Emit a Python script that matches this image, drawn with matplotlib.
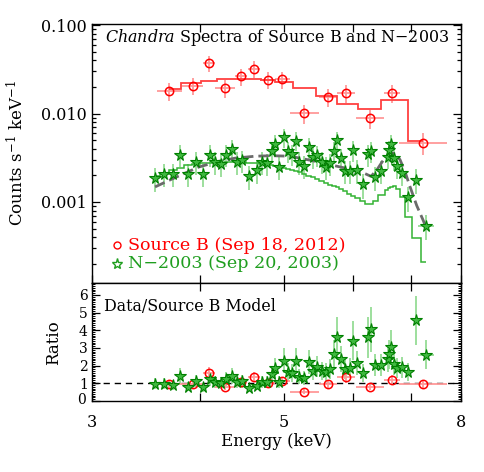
import numpy as np
import matplotlib
matplotlib.use('Agg')
import matplotlib.pyplot as plt
import matplotlib.transforms as mtransforms
from matplotlib.ticker import (FixedLocator, NullLocator, LogLocator,
                               MultipleLocator, NullFormatter, FixedFormatter,
                               FuncFormatter)

plt.rcParams['font.family'] = ['DejaVu Serif']
plt.rcParams['mathtext.fontset'] = 'dejavuserif'

# ---------------- Source B (red) ----------------
srcB_energy = [3.68, 3.92, 4.09, 4.27, 4.46, 4.61, 4.79, 4.97, 5.27, 5.62, 5.90, 6.28, 6.66, 7.24]
srcB_elo = [3.563, 3.808, 4.033, 4.16, 4.387, 4.541, 4.688, 4.88, 5.078, 5.49, 5.754, 6.05, 6.525, 6.78]
srcB_ehi = [3.808, 4.033, 4.16, 4.387, 4.526, 4.688, 4.88, 5.078, 5.49, 5.754, 6.035, 6.525, 6.80, 7.70]
srcB_rate = [0.0180, 0.0205, 0.0373, 0.0195, 0.0264, 0.0322, 0.0240, 0.0244, 0.0101, 0.0154,
             0.0170, 0.00888, 0.0170, 0.00468]
srcB_err = [0.0040, 0.0045, 0.0075, 0.0045, 0.0058, 0.0068, 0.0052, 0.0054, 0.0025, 0.0036,
            0.0039, 0.0022, 0.0040, 0.0013]
srcB_model = [0.01884, 0.02203, 0.02318, 0.02443, 0.02483, 0.02431, 0.02399, 0.02260, 0.01965,
              0.01571, 0.01286, 0.01121, 0.01416, 0.00483]
srcB_ratio = [0.96, 0.95, 1.60, 0.81, 1.06, 1.34, 1.04, 1.11, 0.53, 0.98, 1.34, 0.81, 1.21, 0.96]
srcB_ratio_err = [0.22, 0.22, 0.32, 0.19, 0.23, 0.28, 0.22, 0.24, 0.14, 0.23, 0.3, 0.2, 0.28, 0.25]

# ---------------- N-2003 (green) ----------------
n03_energy = [3.547, 3.636, 3.721, 3.793, 3.877, 3.955, 4.032, 4.100, 4.160, 4.227,
              4.289, 4.350, 4.407, 4.475, 4.559, 4.651, 4.711, 4.774, 4.837, 4.882,
              4.938, 4.997, 5.055, 5.105, 5.159, 5.205, 5.273, 5.334, 5.394, 5.460,
              5.524, 5.584, 5.651, 5.712, 5.754, 5.815, 5.877, 5.951, 6.007, 6.064,
              6.160, 6.243, 6.295, 6.370, 6.476, 6.584, 6.607, 6.642, 6.700, 6.754,
              6.844, 6.954, 7.093, 7.289]
n03_xerr = [0.03] * 53 + [0.15]
n03_rate_e3 = [1.870, 2.090, 2.090, 3.423, 2.090, 2.832, 2.090, 3.423, 2.832, 2.710,
               3.405, 3.979, 2.832, 2.952, 1.949, 2.278, 2.832, 2.731, 3.797, 4.553,
               2.487, 5.418, 3.729, 3.513, 4.923, 2.832, 2.559, 4.180, 3.249, 3.396,
               2.853, 2.474, 2.744, 3.797, 4.961, 3.142, 2.248, 2.248, 3.827, 2.278,
               1.583, 3.450, 3.777, 1.909, 2.259, 3.225, 3.827, 4.553, 3.142, 2.572,
               2.128, 1.130, 1.789, 0.542]
n03_err_e3 = [0.56, 0.62, 0.60, 0.95, 0.62, 0.80, 0.62, 0.95, 0.80, 0.78,
              0.95, 1.05, 0.80, 0.82, 0.60, 0.68, 0.80, 0.78, 1.00, 1.15,
              0.72, 1.30, 1.00, 0.95, 1.20, 0.80, 0.74, 1.10, 0.90, 0.92,
              0.80, 0.72, 0.78, 1.00, 1.20, 0.88, 0.66, 0.66, 1.00, 0.68,
              0.50, 0.95, 1.00, 0.58, 0.66, 0.88, 1.00, 1.15, 0.88, 0.74,
              0.62, 0.36, 0.55, 0.17]
n03_model_e3 = [1.959, 2.144, 2.301, 2.423, 2.586, 2.689, 2.724, 2.752, 2.774, 2.788,
                2.803, 2.810, 2.810, 2.796, 2.767, 2.731, 2.696, 2.640, 2.586, 2.540,
                2.487, 2.423, 2.362, 2.301, 2.231, 2.173, 2.074, 1.985, 1.899, 1.812,
                1.729, 1.654, 1.571, 1.511, 1.472, 1.398, 1.334, 1.243, 1.180, 1.121,
                1.024, 0.959, 0.959, 1.037, 1.211, 1.380, 1.434, 1.491, 1.503, 1.416,
                1.151, 0.684, 0.387, 0.209]
n03_ratio = [0.98, 0.98, 0.89, 1.43, 0.81, 1.13, 0.78, 1.25, 1.09, 1.00,
             1.25, 1.43, 1.06, 1.11, 0.72, 0.87, 1.09, 1.08, 1.51, 1.85,
             1.06, 2.28, 1.64, 1.60, 2.28, 1.38, 1.28, 2.21, 1.71, 1.94,
             1.70, 1.64, 1.81, 2.66, 3.60, 2.36, 1.81, 1.88, 3.40, 2.15,
             1.60, 3.60, 4.05, 2.04, 2.04, 2.36, 2.64, 3.07, 2.12, 1.85,
             1.90, 1.66, 4.56, 2.63]
n03_ratio_err = [0.30, 0.30, 0.28, 0.44, 0.26, 0.35, 0.25, 0.39, 0.34, 0.31,
                 0.39, 0.44, 0.33, 0.35, 0.23, 0.27, 0.34, 0.34, 0.47, 0.57,
                 0.33, 0.70, 0.51, 0.50, 0.70, 0.43, 0.40, 0.68, 0.53, 0.60,
                 0.53, 0.51, 0.56, 0.82, 1.15, 0.73, 0.56, 0.58, 1.10, 0.66,
                 0.50, 1.15, 1.25, 0.63, 0.63, 0.73, 0.82, 0.95, 0.66, 0.57,
                 0.59, 0.51, 1.40, 0.80]

# dashed grey model curve
curve_energy = [3.547, 3.708, 3.841, 3.980, 4.197, 4.387, 4.627, 4.841, 5.078, 5.355, 5.648,
                5.956, 6.165, 6.298, 6.399, 6.507, 6.624, 6.713, 6.803, 6.894, 6.986, 7.112,
                7.237, 7.289]
curve_rate_e3 = [1.480, 1.812, 2.117, 2.474, 2.876, 3.126, 3.292, 3.335, 3.292, 2.968, 2.640,
                 2.350, 2.144, 1.949, 2.319, 2.968, 3.604, 3.513, 3.006, 2.201, 1.491, 0.911,
                 0.617, 0.514]

xtick_vals = [3, 4, 5, 6, 7, 8]
xtick_labels = ['3', '', '5', '', '', '8']
ratio_ticks = [0, 1, 2, 3, 4, 5, 6]
ratio_tick_labels = ['', '1', '2', '3', '4', '5', '6']

# ---------------- derived arrays ----------------
rE = np.array(srcB_energy)
gE = np.array(n03_energy)
g_rate = np.array(n03_rate_e3) * 1e-3
g_err = np.array(n03_err_e3) * 1e-3
g_model = np.array(n03_model_e3) * 1e-3
c_rate = np.array(curve_rate_e3) * 1e-3


def step_edges(x):
    x = np.asarray(x, float)
    mids = np.sqrt(x[:-1] * x[1:])
    return np.concatenate([[x[0]], mids, [x[-1]]])


RED = (1.0, 0.0, 0.0)
RED_ERR = (1.0, 0.6, 0.6)
RED_LINE = (1.0, 0.25, 0.25)
GREEN_FACE = (0.25, 0.72, 0.25)
GREEN_EDGE = (0.0, 0.5, 0.0)
GREEN_ERR = (0.55, 0.85, 0.55)
GREEN_LINE = (0.2, 0.7, 0.2)
GREEN_TEXT = (0.12, 0.62, 0.12)

fig = plt.figure(figsize=(4.85, 4.72), dpi=100)
ax1 = fig.add_axes([0.1897, 0.3994, 0.7608, 0.5508])
ax2 = fig.add_axes([0.1897, 0.1504, 0.7608, 0.2490])

for ax in (ax1, ax2):
    ax.set_xscale('log')
    ax.set_xlim(3, 8)
    ax.xaxis.set_major_locator(FixedLocator(xtick_vals))
    ax.xaxis.set_major_formatter(FixedFormatter(xtick_labels))
    ax.xaxis.set_minor_locator(NullLocator())
    ax.tick_params(which='both', direction='in', top=True, right=True,
                   labelsize=11.5, width=0.9, colors='k')
    ax.tick_params(which='major', length=6)
    ax.tick_params(which='minor', length=3)
    for s in ax.spines.values():
        s.set_linewidth(1.0)

# ---------- top panel ----------
ax1.set_yscale('log')
ax1.set_ylim(1.2e-4, 0.104)
ax1.yaxis.set_major_locator(LogLocator(base=10, numticks=10))
ax1.yaxis.set_major_formatter(FuncFormatter(lambda v, p: f'{v:.3f}'))
ax1.yaxis.set_minor_locator(LogLocator(base=10, subs=np.arange(2, 10), numticks=20))
ax1.yaxis.set_minor_formatter(NullFormatter())
ax1.tick_params(axis='x', labelbottom=False)
ax1.tick_params(axis='y', pad=4)

# red data
ax1.errorbar(rE, srcB_rate, xerr=[rE - np.array(srcB_elo), np.array(srcB_ehi) - rE],
             yerr=srcB_err, fmt='none', ecolor=RED_ERR, elinewidth=1.3, capsize=0, zorder=2)
ax1.stairs(srcB_model, step_edges(rE), baseline=None, color=RED_LINE, lw=1.3, zorder=3)
ax1.plot(rE, srcB_rate, 'o', mfc='none', mec=RED, ms=6, mew=1.1, zorder=5)

# green data
ax1.errorbar(gE, g_rate, xerr=n03_xerr, yerr=g_err, fmt='none', ecolor=GREEN_ERR,
             elinewidth=1.2, capsize=0, zorder=2)
ax1.stairs(g_model, step_edges(gE), baseline=None, color=GREEN_LINE, lw=1.1, zorder=3)
ax1.plot(curve_energy, c_rate, color=(0.42, 0.42, 0.42), lw=2.0, dashes=(3.8, 1.8), zorder=4)
ax1.plot(gE, g_rate, '*', mfc=GREEN_FACE, mec=GREEN_EDGE, ms=8.5, mew=0.8, zorder=6)

ax1.set_ylabel(r'Counts s$^{-1}$ keV$^{-1}$', fontsize=12)
ax1.yaxis.set_label_coords(-0.176, 0.5)

ax1.text(0.035, 0.948, r'$\mathit{Chandra}$ Spectra of Source B and N−2003',
         transform=ax1.transAxes, va='center', ha='left', fontsize=11.4)

# legend
ax1.plot([0.068], [0.148], 'o', transform=ax1.transAxes, mfc='none', mec=RED, ms=5, mew=1)
ax1.text(0.097, 0.148, 'Source B (Sep 18, 2012)', transform=ax1.transAxes,
         color=RED, fontsize=12.6, va='center', ha='left')
ax1.plot([0.068], [0.075], '*', transform=ax1.transAxes, mfc='none', mec=GREEN_TEXT,
         ms=8, mew=1)
ax1.text(0.097, 0.075, 'N−2003 (Sep 20, 2003)', transform=ax1.transAxes,
         color=GREEN_TEXT, fontsize=12.6, va='center', ha='left')

# ---------- bottom panel ----------
ax2.set_ylim(0, 6.65)
ax2.yaxis.set_major_locator(FixedLocator(ratio_ticks))
ax2.yaxis.set_major_formatter(FixedFormatter(ratio_tick_labels))
ax2.yaxis.set_minor_locator(MultipleLocator(0.1))
ax2.tick_params(axis='y', which='minor', length=2.5, width=0.7)
ax2.tick_params(axis='y', pad=3, labelsize=10)
ax2.tick_params(axis='x', pad=9)

# "0" label sits just above/below the axis corner, as in the original
zero_tr = mtransforms.blended_transform_factory(ax2.transAxes, ax2.transData) + \
    mtransforms.ScaledTranslation(-4.2 / 72, -2.5 / 72, fig.dpi_scale_trans)
ax2.text(0.0, ratio_ticks[0], '0', transform=zero_tr, ha='right', va='baseline',
         fontsize=10)

ax2.axhline(1.0, color='k', lw=1.0, dashes=(4.5, 3.5), zorder=1)
ax2.errorbar(gE, n03_ratio, xerr=n03_xerr, yerr=n03_ratio_err, fmt='none',
             ecolor=GREEN_ERR, elinewidth=1.2, capsize=0, zorder=2)
ax2.errorbar(rE, srcB_ratio, xerr=[rE - np.array(srcB_elo), np.array(srcB_ehi) - rE],
             yerr=srcB_ratio_err, fmt='none', ecolor=RED_ERR, elinewidth=1.3, capsize=0, zorder=2)
ax2.plot(rE, srcB_ratio, 'o', mfc='none', mec=RED, ms=6, mew=1.1, zorder=5)
ax2.plot(gE, n03_ratio, '*', mfc=GREEN_FACE, mec=GREEN_EDGE, ms=8.5, mew=0.8, zorder=6)

ax2.text(0.0325, 0.80, 'Data/Source B Model', transform=ax2.transAxes,
         va='center', ha='left', fontsize=11.4)

ax2.set_ylabel('Ratio', fontsize=12)
ax2.yaxis.set_label_coords(-0.081, 0.5)
ax2.set_xlabel('Energy (keV)', fontsize=12)
ax2.xaxis.set_label_coords(0.5, -0.27)

fig.savefig('out.png', dpi=100)
